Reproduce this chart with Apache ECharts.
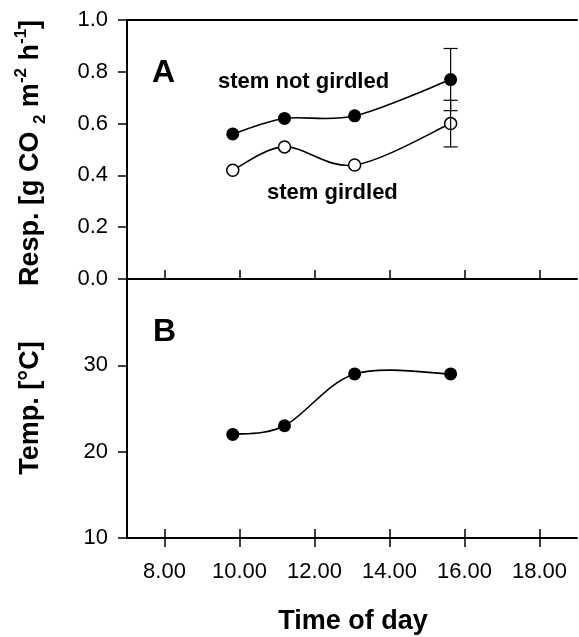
<!DOCTYPE html>
<html>
<head>
<meta charset="utf-8">
<script src="https://cdn.jsdelivr.net/npm/echarts@6/dist/echarts.min.js"></script>
<style>
  html, body { margin: 0; padding: 0; background: #fff; }
  #chart { width: 579px; height: 637px; }
</style>
</head>
<body>
<div id="chart"></div>
<script>
// time of day (hours)
var times = [9.82, 11.2, 13.07, 15.63]
// respiration, g CO2 m-2 h-1
var notGirdled = [0.56, 0.62, 0.63, 0.77]
var girdled = [0.42, 0.51, 0.44, 0.60]
// error bars only on the last point
var notGirdledErr = [null, null, null, 0.12]
var girdledErr = [null, null, null, 0.09]
// temperature, °C
var temp = [22, 23, 29, 29]
var xTicks = [8, 10, 12, 14, 16, 18]

var font = 'Liberation Sans, Arial, sans-serif'

function pairs(ys) {
  return times.map(function (t, i) { return [t, ys[i]] })
}
function errRows(ys, errs) {
  var out = []
  times.forEach(function (t, i) {
    if (errs[i] != null) out.push([t, ys[i], errs[i]])
  })
  return out
}

// catmull-rom spline through the points, drawn once per series
function splineItem(ys) {
  return function (params, api) {
    if (params.dataIndex !== 0) return null
    var p = ys.map(function (v, i) { return api.coord([times[i], v]) })
    var d = 'M' + p[0][0] + ' ' + p[0][1]
    for (var i = 0; i < p.length - 1; i++) {
      var p0 = p[Math.max(i - 1, 0)], p1 = p[i], p2 = p[i + 1], p3 = p[Math.min(i + 2, p.length - 1)]
      var c1x = p1[0] + (p2[0] - p0[0]) / 6, c1y = p1[1] + (p2[1] - p0[1]) / 6
      var c2x = p2[0] - (p3[0] - p1[0]) / 6, c2y = p2[1] - (p3[1] - p1[1]) / 6
      d += ' C' + c1x + ' ' + c1y + ' ' + c2x + ' ' + c2y + ' ' + p2[0] + ' ' + p2[1]
    }
    return { type: 'path', shape: { pathData: d }, style: { stroke: '#000', lineWidth: 1.6, fill: null } }
  }
}

var chart = echarts.init(document.getElementById('chart'))

var axisLine = { lineStyle: { color: '#000', width: 2 } }
var tickStyle = { color: '#000', width: 1.5 }

chart.setOption({
  animation: false,
  backgroundColor: '#fff',
  grid: [
    { left: 127, top: 20, width: 450, height: 259 },
    { left: 127, top: 279, width: 450, height: 259 }
  ],
  xAxis: [
    {
      gridIndex: 0, type: 'value', position: 'bottom', min: 7, max: 19,
      axisLine: axisLine,
      axisTick: { inside: true, length: 9, customValues: xTicks, lineStyle: tickStyle },
      axisLabel: { show: false },
      splitLine: { show: false }
    },
    {
      gridIndex: 0, type: 'value', position: 'top', min: 7, max: 19,
      axisLine: axisLine, axisTick: { show: false }, axisLabel: { show: false },
      splitLine: { show: false }
    },
    {
      gridIndex: 1, type: 'value', position: 'bottom', min: 7, max: 19,
      axisLine: axisLine,
      axisTick: { length: 9, customValues: xTicks, lineStyle: tickStyle },
      axisLabel: {
        customValues: xTicks, margin: 23, color: '#000', fontSize: 22, fontFamily: font,
        formatter: function (v) { return v.toFixed(2) }
      },
      splitLine: { show: false }
    },
    {
      gridIndex: 1, type: 'value', position: 'bottom', min: 7, max: 19,
      axisLine: { show: false },
      axisTick: { inside: true, length: 9, customValues: xTicks, lineStyle: tickStyle },
      axisLabel: { show: false },
      splitLine: { show: false }
    }
  ],
  yAxis: [
    {
      gridIndex: 0, type: 'value', min: 0, max: 1, interval: 0.2,
      axisLine: axisLine,
      axisTick: { length: 9, lineStyle: tickStyle },
      axisLabel: {
        margin: 19, color: '#000', fontSize: 22, fontFamily: font,
        formatter: function (v) { return v.toFixed(1) }
      },
      splitLine: { show: false }
    },
    {
      gridIndex: 1, type: 'value', min: 10, max: 40, interval: 10,
      axisLine: axisLine,
      axisTick: { length: 9, lineStyle: tickStyle },
      axisLabel: {
        margin: 19, color: '#000', fontSize: 22, fontFamily: font,
        formatter: function (v) { return v === 40 ? '' : String(v) }
      },
      splitLine: { show: false }
    }
  ],
  series: [
    // curves
    { type: 'custom', xAxisIndex: 0, yAxisIndex: 0, z: 2, data: pairs(notGirdled), renderItem: splineItem(notGirdled) },
    { type: 'custom', xAxisIndex: 0, yAxisIndex: 0, z: 2, data: pairs(girdled), renderItem: splineItem(girdled) },
    { type: 'custom', xAxisIndex: 2, yAxisIndex: 1, z: 2, data: pairs(temp), renderItem: splineItem(temp) },
    // markers
    {
      name: 'stem not girdled', type: 'scatter', xAxisIndex: 0, yAxisIndex: 0, z: 3,
      data: pairs(notGirdled), symbol: 'circle', symbolSize: 13,
      itemStyle: { color: '#000', opacity: 1 }
    },
    {
      name: 'stem girdled', type: 'scatter', xAxisIndex: 0, yAxisIndex: 0, z: 3,
      data: pairs(girdled), symbol: 'circle', symbolSize: 12,
      itemStyle: { color: '#fff', borderColor: '#000', borderWidth: 1.5, opacity: 1 }
    },
    {
      name: 'temperature', type: 'scatter', xAxisIndex: 2, yAxisIndex: 1, z: 3,
      data: pairs(temp), symbol: 'circle', symbolSize: 13,
      itemStyle: { color: '#000', opacity: 1 }
    },
    // error bars
    {
      type: 'custom', xAxisIndex: 0, yAxisIndex: 0, z: 5,
      data: errRows(notGirdled, notGirdledErr).concat(errRows(girdled, girdledErr)),
      renderItem: function (params, api) {
        var x = api.value(0), y = api.value(1), e = api.value(2)
        var hi = api.coord([x, y + e])
        var lo = api.coord([x, y - e])
        var w = 7
        var st = { stroke: '#000', lineWidth: 1.2 }
        return {
          type: 'group',
          children: [
            { type: 'line', shape: { x1: hi[0], y1: hi[1], x2: lo[0], y2: lo[1] }, style: st },
            { type: 'line', shape: { x1: hi[0] - w, y1: hi[1], x2: hi[0] + w, y2: hi[1] }, style: st },
            { type: 'line', shape: { x1: lo[0] - w, y1: lo[1], x2: lo[0] + w, y2: lo[1] }, style: st }
          ]
        }
      }
    }
  ],
  graphic: [
    { type: 'text', x: 152, y: 73, style: { text: 'A', font: 'bold 32px ' + font, fill: '#000', textVerticalAlign: 'middle' } },
    { type: 'text', x: 153, y: 332, style: { text: 'B', font: 'bold 32px ' + font, fill: '#000', textVerticalAlign: 'middle' } },
    { type: 'text', x: 218, y: 82, style: { text: 'stem not girdled', font: 'bold 22px ' + font, fill: '#000', textVerticalAlign: 'middle' } },
    { type: 'text', x: 267, y: 193, style: { text: 'stem girdled', font: 'bold 22px ' + font, fill: '#000', textVerticalAlign: 'middle' } },
    { type: 'text', x: 353, y: 622, style: { text: 'Time of day', font: 'bold 27px ' + font, fill: '#000', textAlign: 'center', textVerticalAlign: 'middle' } },
    {
      type: 'text', x: 31, y: 408, rotation: Math.PI / 2,
      style: { text: 'Temp. [°C]', font: 'bold 27px ' + font, fill: '#000', textAlign: 'center', textVerticalAlign: 'middle' }
    },
    {
      type: 'text', x: 31, y: 153, rotation: Math.PI / 2,
      style: {
        text: 'Resp. [g CO {sub|2} m{sup|-2} h{sup|-1}]',
        font: 'bold 27px ' + font, fill: '#000', lineHeight: 36,
        textAlign: 'center', textVerticalAlign: 'middle',
        rich: {
          sub: { font: 'bold 17px ' + font, fill: '#000', verticalAlign: 'bottom', lineHeight: 17 },
          sup: { font: 'bold 17px ' + font, fill: '#000', verticalAlign: 'top', lineHeight: 17 }
        }
      }
    }
  ]
})
</script>
</body>
</html>
